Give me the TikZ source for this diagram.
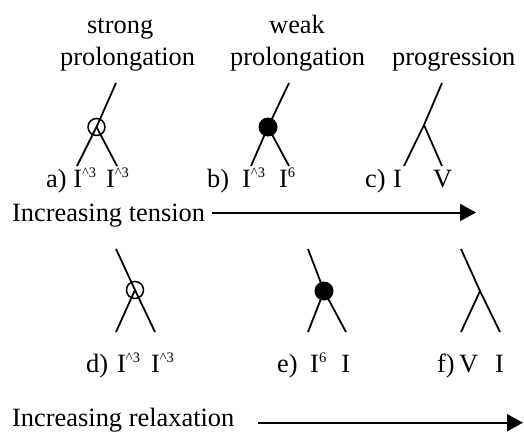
\documentclass[tikz,border=0pt]{standalone}
\usepackage{fontspec}
\setmainfont{Liberation Serif}
\usetikzlibrary{arrows.meta}
\newcommand{\supr}[1]{\raisebox{10pt}{\fontsize{14.5}{14.5}\selectfont #1}}
\begin{document}
\begin{tikzpicture}[x=1pt,y=-1pt,
  lab/.style={anchor=base west,inner sep=0pt,font=\fontsize{26.4}{32}\selectfont},
  branch/.style={line width=1.8pt},
  opendot/.style={circle,draw,line width=1.5pt,minimum size=17pt,inner sep=0pt},
  filldot/.style={circle,fill,minimum size=19pt,inner sep=0pt},
  arr/.style={line width=2pt,-{Triangle[length=16pt,width=17pt]}}]
\useasboundingbox (0,0) rectangle (524,432);
% titles
\node[lab] (t1) at (87,33) {strong};
\node[lab] (t2) at (60,65) {prolongation};
\node[lab] (t3) at (269,33) {weak};
\node[lab] (t4) at (230,65) {prolongation};
\node[lab] (t5) at (392,65) {progression};
% tree a
\coordinate (atop) at (116,83);
\coordinate (al) at (77,166);
\coordinate (ar) at (117,166);
\node[opendot] (ca) at (96.5,127) {};
\draw[branch] (atop) -- (ca.center) -- (al);
\draw[branch] (ca.center) -- (ar);
% tree b
\coordinate (btop) at (289,83);
\coordinate (bl) at (251,166);
\coordinate (br) at (289,166);
\node[filldot] (cb) at (268,127) {};
\draw[branch] (btop) -- (cb.center) -- (bl);
\draw[branch] (cb.center) -- (br);
% tree c
\coordinate (ctop) at (442,83);
\coordinate (cj) at (424,125);
\coordinate (cl) at (404,166);
\coordinate (cr) at (442,166);
\draw[branch] (ctop) -- (cj) -- (cl);
\draw[branch] (cj) -- (cr);
% top labels
\node[lab] (la) at (46,187) {a) I\supr{\textasciicircum3}\hspace{10pt}I\supr{\textasciicircum3}};
\node[lab] (lb) at (207,187) {b)\hspace{13pt}I\supr{\textasciicircum3}\hspace{14pt}I\supr{6}};
\node[lab] (lc) at (365,187) {c)\hspace{7.5pt}I\hspace{31pt}V};
% tension arrow
\node[lab] (tens) at (12,221.7) {Increasing tension};
\coordinate (a1s) at (212,212.5);
\coordinate (a1e) at (476,212.5);
\draw[arr] (a1s) -- (a1e);
% tree d
\coordinate (dtop) at (116,249);
\coordinate (dl) at (116,332);
\coordinate (dr) at (155,332);
\node[opendot] (cd) at (135,290) {};
\draw[branch] (dtop) -- (cd.center) -- (dr);
\draw[branch] (cd.center) -- (dl);
% tree e
\coordinate (etop) at (308,249);
\coordinate (el) at (308,332);
\coordinate (er) at (346,332);
\node[filldot] (ce) at (324,291) {};
\draw[branch] (etop) -- (ce.center) -- (er);
\draw[branch] (ce.center) -- (el);
% tree f
\coordinate (ftop) at (461,249);
\coordinate (fj) at (480,291);
\coordinate (fl) at (461,332);
\coordinate (fr) at (500,332);
\draw[branch] (ftop) -- (fj) -- (fr);
\draw[branch] (fj) -- (fl);
% bottom labels
\node[lab] (ld) at (86,372.5) {d)\hspace{9pt}I\supr{\textasciicircum3}\hspace{11pt}I\supr{\textasciicircum3}};
\node[lab] (le) at (277,372.5) {e)\hspace{12.5pt}I\supr{6}\hspace{15pt}I};
\node[lab] (lf) at (437,372.5) {f)\hspace{4.4pt}V\hspace{17pt}I};
% relaxation arrow
\node[lab] (relax) at (12,426) {Increasing relaxation};
\coordinate (a2s) at (258,422.7);
\coordinate (a2e) at (523,422.7);
\draw[arr] (a2s) -- (a2e);
\end{tikzpicture}
\end{document}
